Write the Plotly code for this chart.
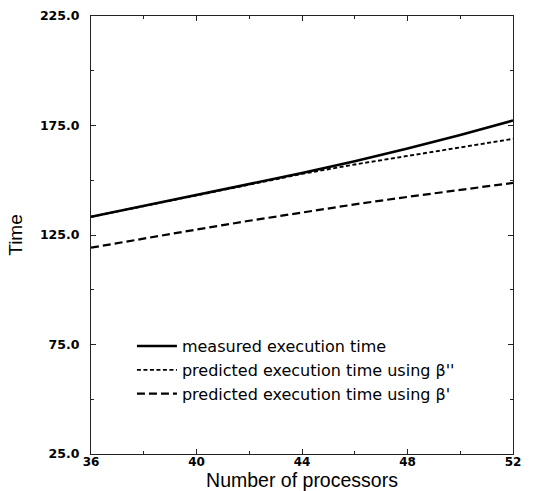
import plotly.graph_objects as go

processors = [36, 38, 40, 42, 44, 46, 48, 50, 52]
measured = [133.3, 138.3, 143.3, 148.2, 153.3, 158.7, 164.5, 170.7, 177.3]
pred_beta2 = [133.3, 138.2, 143.1, 148.0, 152.9, 157.2, 161.0, 164.8, 168.9]
pred_beta1 = [119.2, 123.5, 127.5, 131.5, 135.3, 139.0, 142.4, 145.7, 148.8]

x_ticks = [36, 40, 44, 48, 52]
x_minor = [38, 42, 46, 50]
y_ticks = [25, 75, 125, 175, 225]
y_ticktext = ["25.0", "75.0", "125.0", "175.0", "225.0"]
y_minor = [50, 100, 150, 200]

names = ["measured execution time",
         "predicted execution time using β''",
         "predicted execution time using β'"]

LIB = "Liberation Sans, Arial, sans-serif"
DJV = "DejaVu Sans, sans-serif"

fig = go.Figure()
fig.add_trace(go.Scatter(x=processors, y=measured, mode="lines", name=names[0],
                         line=dict(color="black", width=2.6)))
fig.add_trace(go.Scatter(x=processors, y=pred_beta2, mode="lines", name=names[1],
                         line=dict(color="black", width=1.9, dash="4px,2.5px")))
fig.add_trace(go.Scatter(x=processors, y=pred_beta1, mode="lines", name=names[2],
                         line=dict(color="black", width=2.2, dash="8px,4px")))

axis_common = dict(
    showgrid=False, zeroline=False, showline=True, linecolor="#222", linewidth=1.1,
    mirror="ticks", ticks="inside", ticklen=5, tickcolor="#222", tickwidth=1,
    automargin=False,
)

fig.update_xaxes(range=[36, 52], tickvals=x_ticks,
                 minor=dict(tickvals=x_minor, ticks="inside", ticklen=3, tickcolor="#222"),
                 ticklabelstandoff=-3,
                 tickfont=dict(family=DJV, size=12, color="black", weight="bold"),
                 title=dict(text="Number of processors", standoff=0,
                            font=dict(family=LIB, size=19.5, color="black")),
                 **axis_common)
fig.update_yaxes(range=[25, 225], tickvals=y_ticks, ticktext=y_ticktext,
                 minor=dict(tickvals=y_minor, ticks="inside", ticklen=3, tickcolor="#222"),
                 ticklabelstandoff=8,
                 tickfont=dict(family=DJV, size=12.5, color="black", weight="bold"),
                 title=dict(text="Time", standoff=12,
                            font=dict(family=LIB, size=19, color="black")),
                 **axis_common)

fig.update_layout(
    width=547, height=491,
    margin=dict(l=91, r=34, t=16, b=37, autoexpand=False),
    plot_bgcolor="white", paper_bgcolor="white",
    showlegend=True,
    legend=dict(x=0.097, y=0.285, xanchor="left", yanchor="top",
                bgcolor="rgba(0,0,0,0)", tracegroupgap=0, itemwidth=40,
                font=dict(family=DJV, size=16, color="black")),
)

fig.write_html("out.html")
